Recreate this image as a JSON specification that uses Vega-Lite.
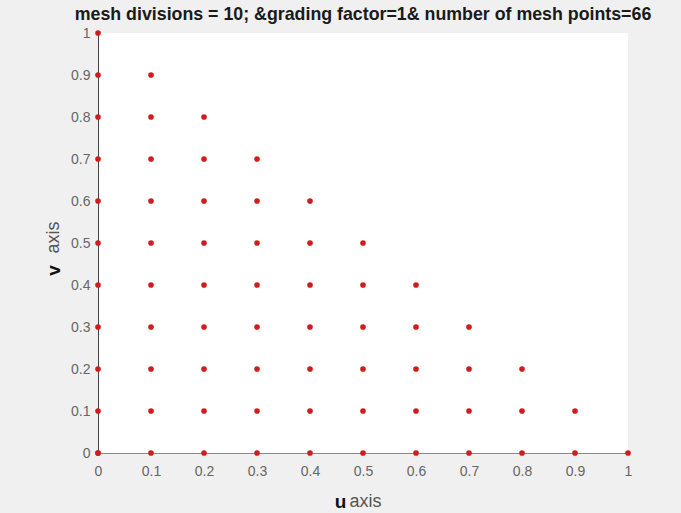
{
 "$schema": "https://vega.github.io/schema/vega-lite/v6.json",
 "width": 530, "height": 420,
 "autosize": {"type": "none"},
 "padding": {"left": 98, "top": 33, "right": 53, "bottom": 60},
 "background": "#f0f0f0",
 "view": {"fill": "white", "stroke": null},
 "title": {"text": "mesh divisions = 10; &grading factor=1& number of mesh points=66", "font": "Liberation Sans", "fontSize": 17.8, "fontWeight": "bold", "color": "#1a1a1a", "anchor": "middle", "frame": "group", "dx": 0, "offset": 2},
 "data": {"values": [
  {"u":0,"v":0},{"u":0,"v":0.1},{"u":0,"v":0.2},{"u":0,"v":0.3},{"u":0,"v":0.4},{"u":0,"v":0.5},{"u":0,"v":0.6},{"u":0,"v":0.7},{"u":0,"v":0.8},{"u":0,"v":0.9},{"u":0,"v":1},
  {"u":0.1,"v":0},{"u":0.1,"v":0.1},{"u":0.1,"v":0.2},{"u":0.1,"v":0.3},{"u":0.1,"v":0.4},{"u":0.1,"v":0.5},{"u":0.1,"v":0.6},{"u":0.1,"v":0.7},{"u":0.1,"v":0.8},{"u":0.1,"v":0.9},
  {"u":0.2,"v":0},{"u":0.2,"v":0.1},{"u":0.2,"v":0.2},{"u":0.2,"v":0.3},{"u":0.2,"v":0.4},{"u":0.2,"v":0.5},{"u":0.2,"v":0.6},{"u":0.2,"v":0.7},{"u":0.2,"v":0.8},
  {"u":0.3,"v":0},{"u":0.3,"v":0.1},{"u":0.3,"v":0.2},{"u":0.3,"v":0.3},{"u":0.3,"v":0.4},{"u":0.3,"v":0.5},{"u":0.3,"v":0.6},{"u":0.3,"v":0.7},
  {"u":0.4,"v":0},{"u":0.4,"v":0.1},{"u":0.4,"v":0.2},{"u":0.4,"v":0.3},{"u":0.4,"v":0.4},{"u":0.4,"v":0.5},{"u":0.4,"v":0.6},
  {"u":0.5,"v":0},{"u":0.5,"v":0.1},{"u":0.5,"v":0.2},{"u":0.5,"v":0.3},{"u":0.5,"v":0.4},{"u":0.5,"v":0.5},
  {"u":0.6,"v":0},{"u":0.6,"v":0.1},{"u":0.6,"v":0.2},{"u":0.6,"v":0.3},{"u":0.6,"v":0.4},
  {"u":0.7,"v":0},{"u":0.7,"v":0.1},{"u":0.7,"v":0.2},{"u":0.7,"v":0.3},
  {"u":0.8,"v":0},{"u":0.8,"v":0.1},{"u":0.8,"v":0.2},
  {"u":0.9,"v":0},{"u":0.9,"v":0.1},
  {"u":1,"v":0}
 ]},
 "config": {
  "axis": {"labelFont": "Liberation Sans", "labelFontSize": 14, "labelColor": "#666666", "titleFont": "Liberation Sans", "titleFontSize": 18, "titleColor": "#555555", "grid": false, "ticks": false}
 },
 "layer": [
  {
   "mark": {"type": "point", "filled": true, "size": 32, "color": "#d01c1c", "opacity": 1},
   "encoding": {
    "x": {"field": "u", "type": "quantitative", "scale": {"domain": [0, 1], "nice": false, "zero": false},
          "axis": {"orient": "bottom", "values": [0,0.1,0.2,0.3,0.4,0.5,0.6,0.7,0.8,0.9,1], "format": "~g", "title": "axis", "titleFontWeight": "normal", "titleX": 267, "titleY": 48, "titleBaseline": "middle", "labelPadding": 11, "domainColor": "#8a8a8a", "labelFlush": false}},
    "y": {"field": "v", "type": "quantitative", "scale": {"domain": [0, 1], "nice": false, "zero": false},
          "axis": {"orient": "left", "values": [0,0.1,0.2,0.3,0.4,0.5,0.6,0.7,0.8,0.9,1], "format": "~g", "title": "axis", "titleFontWeight": "normal", "titleX": -45, "titleY": 204, "titleAngle": -90, "titleAlign": "center", "titleBaseline": "middle", "labelPadding": 8, "domainColor": "#444444", "labelFlush": false}}
   }
  },
  {
   "transform": [{"filter": "datum.u == 0 && datum.v == 0"}],
   "mark": {"type": "point", "filled": true, "size": 32, "color": "#d01c1c", "opacity": 1},
   "encoding": {
    "x": {"field": "u", "type": "quantitative", "axis": {"orient": "bottom", "title": "u", "titleFontWeight": "bold", "titleFontSize": 19, "titleColor": "#111111", "titleX": 242, "titleY": 48, "titleBaseline": "middle", "labels": false, "domain": false, "offset": 0}},
    "y": {"field": "v", "type": "quantitative", "axis": {"orient": "left", "title": "v", "titleFontWeight": "bold", "titleFontSize": 19, "titleColor": "#111111", "titleX": -45, "titleY": 237, "titleAngle": -90, "titleAlign": "center", "titleBaseline": "middle", "labels": false, "domain": false, "offset": 0}}
   }
  }
 ],
 "resolve": {"axis": {"x": "independent", "y": "independent"}}
}
